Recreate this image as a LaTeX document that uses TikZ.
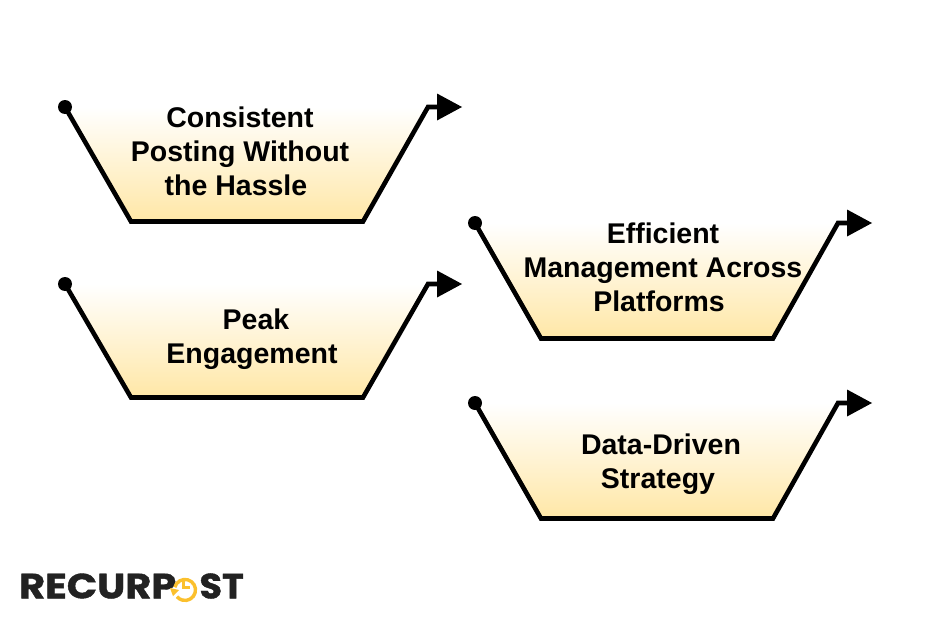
\documentclass[tikz,border=0pt]{standalone}
\usepackage{fontspec}
\setmainfont{Liberation Sans}
\newfontfamily\logofont{Poppins}[UprightFont=* Bold,FakeStretch=1.14,FakeBold=1.2]
\newfontfamily\logofontnarrow{Poppins}[UprightFont=* Bold,FakeStretch=1.05,FakeBold=1.2]
\definecolor{trayglow}{HTML}{FFE7A6}
\definecolor{logoink}{HTML}{222222}
\definecolor{clockgold}{HTML}{FBC02D}
\tikzset{
  x=1pt,y=-1pt,
  trayline/.style={line width=4.6pt,line join=miter,line cap=butt},
  traytext/.style={font=\fontsize{28.5}{34}\selectfont\bfseries,align=center,text=black,inner sep=0pt},
  logotext/.style={text=logoink,inner sep=0pt},
}
% One tray: left end (#1,#2), with the base #3 below the ends; #4 names its coordinates
\newcommand{\tray}[4]{%
  \coordinate (#4start) at (#1,#2);
  \coordinate (#4bl) at (#1+66,#2+#3);
  \coordinate (#4br) at (#1+298,#2+#3);
  \coordinate (#4top) at (#1+363,#2);
  \coordinate (#4stem) at (#1+374,#2);
  \coordinate (#4tip) at (#1+397,#2);
  \fill[top color=white,bottom color=trayglow] (#4start) -- (#4bl) -- (#4br) -- (#4top) -- cycle;
  \draw[trayline] (#4start) -- (#4bl) -- (#4br) -- (#4top) -- (#4stem);
  \fill (#4start) circle (7pt);
  \fill (#1+372,#2-13.5) -- (#4tip) -- (#1+372,#2+13.5) -- cycle;
}
\begin{document}
\begin{tikzpicture}
\useasboundingbox (0,0) rectangle (930,621);
\fill[white] (0,0) rectangle (930,621);
\tray{65}{107}{114.5}{a}
\tray{65}{284}{113.5}{b}
\tray{475}{223}{115.5}{c}
\tray{475}{403}{115.5}{d}
\node[traytext] (ta) at (240,151) {Consistent\\Posting Without\\the Hassle\hspace*{8pt}};
\node[traytext] (tb) at (252,339) {\hspace*{8pt}Peak\\Engagement};
\node[traytext] (tc) at (663,267) {Efficient\\Management Across\\Platforms\hspace*{8pt}};
\node[traytext] (td) at (661,464) {Data-Driven\\Strategy\hspace*{6pt}};
% Wordmark with the clock in place of the O
\node[logotext,font=\logofont\fontsize{35}{35}\selectfont,anchor=west] (lg1) at (19,586) {RECURP};
\node[logotext,font=\logofontnarrow\fontsize{35}{35}\selectfont,anchor=east] (lg2) at (244,586) {ST};
\coordinate (clk) at (185,584.5);
\draw[clockgold,line width=3.4pt] (clk) ++(165:10.5) arc[start angle=165,end angle=-140,radius=10.5,y radius=-10.5];
\fill[clockgold] (170,588) -- (179,590) -- (173,596) -- cycle;
\draw[clockgold,line width=2.6pt,line join=miter] (183.5,578) -- (183.5,587.5) -- (190,587.5);
\end{tikzpicture}
\end{document}
